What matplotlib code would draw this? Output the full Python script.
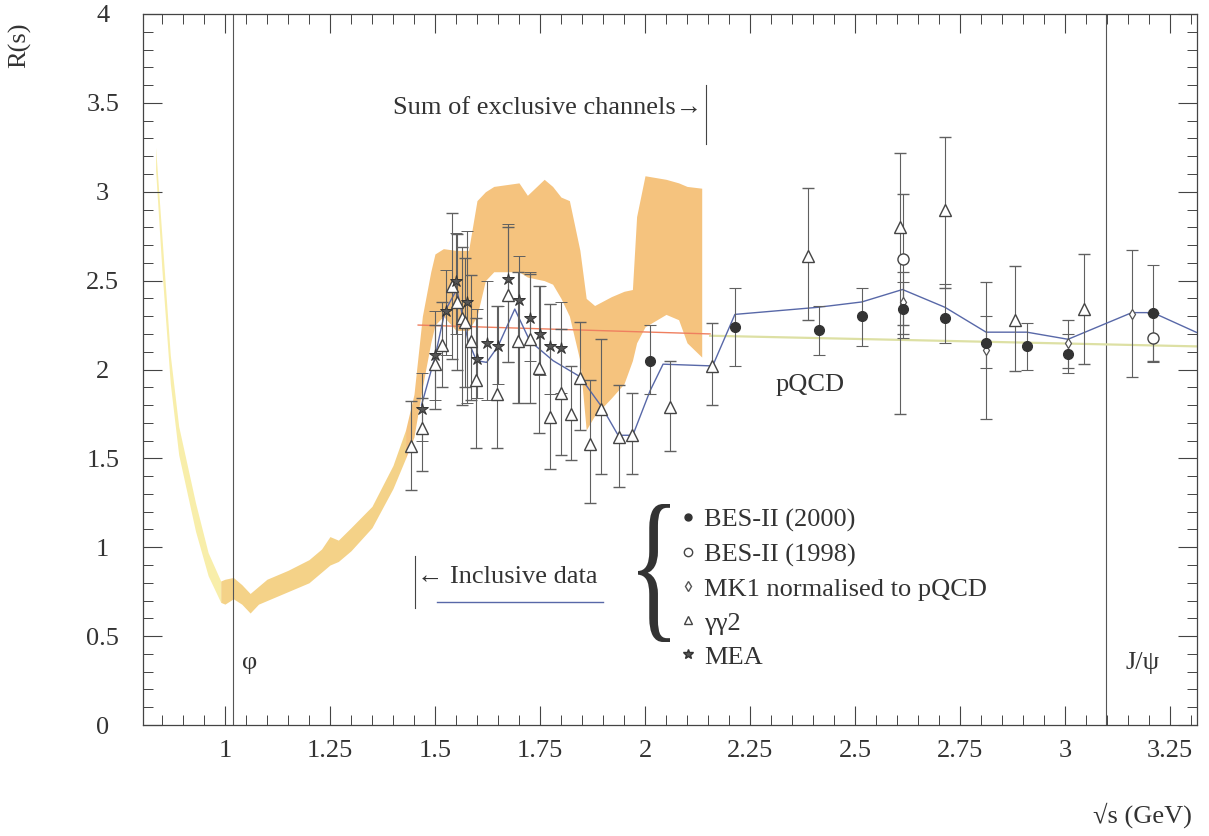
import matplotlib
matplotlib.use("Agg")
import matplotlib.pyplot as plt
from matplotlib.font_manager import FontProperties
from matplotlib.lines import Line2D
from matplotlib.patches import PathPatch
from matplotlib.textpath import TextPath
from matplotlib.ticker import MultipleLocator
from matplotlib.transforms import Affine2D, IdentityTransform
import numpy as np

plt.rcParams["font.family"] = ["Liberation Serif", "DejaVu Serif"]

# exclusive-channel band (sqrt(s), lower, upper)
band_x = [0.835, 0.85, 0.87, 0.89, 0.93, 0.96, 0.99, 1.00, 1.02, 1.04, 1.06, 1.08, 1.10,
          1.15, 1.20, 1.23, 1.25, 1.27, 1.30, 1.35, 1.40, 1.43, 1.45, 1.47, 1.49, 1.50,
          1.52, 1.55, 1.58, 1.60, 1.62, 1.64, 1.70, 1.72, 1.76, 1.78, 1.80, 1.82, 1.845,
          1.86, 1.88, 1.92, 1.95, 1.97, 1.98, 2.00, 2.05, 2.08, 2.10, 2.135]
band_lo = [3.12, 2.56, 1.92, 1.52, 1.09, 0.84, 0.69, 0.68, 0.71, 0.68, 0.63, 0.68, 0.70,
           0.75, 0.80, 0.86, 0.90, 0.92, 0.98, 1.11, 1.33, 1.50, 1.62, 1.90, 2.15, 2.25,
           2.30, 2.22, 2.22, 2.30, 2.50, 2.55, 2.55, 2.52, 2.50, 2.48, 2.40, 2.30, 2.05,
           1.66, 1.74, 1.84, 1.92, 2.05, 2.15, 2.24, 2.31, 2.28, 2.15, 2.07]
band_hi = [3.25, 2.75, 2.08, 1.68, 1.25, 0.97, 0.81, 0.82, 0.83, 0.79, 0.74, 0.78, 0.82,
           0.87, 0.93, 0.99, 1.06, 1.04, 1.11, 1.23, 1.46, 1.66, 1.86, 2.30, 2.55, 2.65,
           2.68, 2.67, 2.67, 2.95, 3.00, 3.03, 3.05, 2.98, 3.07, 3.03, 2.97, 2.95, 2.67,
           2.40, 2.36, 2.41, 2.44, 2.45, 2.86, 3.09, 3.07, 3.05, 3.03, 3.02]

# inclusive data average line
incl_x = [1.468, 1.500, 1.524, 1.552, 1.564, 1.579, 1.599, 1.623, 1.650, 1.690, 1.726,
          1.781, 1.845, 1.897, 1.936, 1.971, 2.012, 2.043, 2.161, 2.214, 2.412, 2.516,
          2.613, 2.714, 2.812, 2.909, 3.007, 3.159, 3.209, 3.321]
incl_y = [1.80, 2.07, 2.33, 2.45, 2.32, 2.16, 2.05, 2.04, 2.13, 2.34, 2.16,
          2.05, 1.96, 1.79, 1.63, 1.63, 1.88, 2.03, 2.02, 2.31, 2.35, 2.38,
          2.45, 2.35, 2.21, 2.21, 2.17, 2.32, 2.32, 2.20]

# pQCD
pqcd_red_x = [1.46, 2.155]
pqcd_red_y = [2.25, 2.20]
pqcd_x = [2.155, 3.314]
pqcd_y = [2.19, 2.13]

# BES-II (2000)
bes00_x = [2.012, 2.214, 2.415, 2.516, 2.613, 2.713, 2.812, 2.909, 3.008, 3.209]
bes00_y = [2.05, 2.24, 2.22, 2.30, 2.34, 2.29, 2.15, 2.13, 2.09, 2.32]
bes00_lo = [1.86, 2.02, 2.08, 2.13, 2.18, 2.15, 2.01, 2.00, 1.98, 2.04]
bes00_hi = [2.25, 2.46, 2.36, 2.46, 2.49, 2.48, 2.30, 2.26, 2.20, 2.59]

# BES-II (1998)
bes98_x = [2.613, 3.209]
bes98_y = [2.62, 2.18]
bes98_lo = [2.25, 2.05]
bes98_hi = [2.99, 2.32]

# MK1 normalised to pQCD
mk1_x = [2.613, 2.812, 3.008, 3.159]
mk1_y = [2.38, 2.11, 2.15, 2.31]
mk1_lo = [2.20, 1.72, 2.01, 1.96]
mk1_hi = [2.55, 2.49, 2.28, 2.67]

# gamma gamma 2
gg2_x = [1.442, 1.470, 1.500, 1.516, 1.540, 1.552, 1.564, 1.571, 1.585, 1.598, 1.647,
         1.675, 1.698, 1.726, 1.748, 1.774, 1.800, 1.823, 1.845, 1.868, 1.896, 1.938,
         1.970, 2.060, 2.160, 2.387, 2.607, 2.714, 2.881, 3.044]
gg2_y = [1.57, 1.67, 2.03, 2.14, 2.47, 2.38, 2.29, 2.27, 2.16, 1.94, 1.86,
         2.42, 2.16, 2.17, 2.01, 1.73, 1.87, 1.75, 1.95, 1.58, 1.78, 1.62,
         1.63, 1.79, 2.02, 2.64, 2.80, 2.90, 2.28, 2.34]
gg2_lo = [1.32, 1.43, 1.78, 1.90, 2.06, 2.00, 1.80, 1.90, 1.83, 1.56, 1.56,
          2.04, 1.81, 1.81, 1.64, 1.44, 1.52, 1.49, 1.66, 1.25, 1.41, 1.34,
          1.41, 1.54, 1.80, 2.28, 1.75, 2.46, 1.99, 2.03]
gg2_hi = [1.82, 1.84, 2.25, 2.38, 2.88, 2.76, 2.69, 2.63, 2.53, 2.29, 2.36,
          2.80, 2.55, 2.54, 2.47, 2.37, 2.23, 2.02, 2.27, 1.94, 2.17, 1.91,
          1.87, 2.05, 2.26, 3.02, 3.22, 3.31, 2.58, 2.65]

# MEA
mea_x = [1.468, 1.500, 1.526, 1.551, 1.577, 1.599, 1.623, 1.650, 1.675, 1.700, 1.726,
         1.750, 1.775, 1.801]
mea_y = [1.78, 2.08, 2.33, 2.50, 2.38, 2.06, 2.15, 2.13, 2.51, 2.39, 2.29,
         2.20, 2.13, 2.12]
mea_lo = [1.60, 1.83, 2.08, 2.20, 1.81, 1.84, 1.83, 1.92, 2.04, 1.81, 2.05,
          1.97, 1.86, 1.87]
mea_hi = [1.98, 2.33, 2.56, 2.77, 2.78, 2.34, 2.50, 2.36, 2.82, 2.64, 2.55,
          2.47, 2.37, 2.38]

phi_mass = 1.019
jpsi_mass = 3.097

TXT = "#333333"
ERR = "#606060"


def errs(y, lo, hi):
    y, lo, hi = np.asarray(y), np.asarray(lo), np.asarray(hi)
    return [y - lo, hi - y]


def add_brace(fig, left, top, width, height):
    # narrow curly brace drawn from the font glyph, placed in figure pixels
    tp = TextPath((0, 0), "{", size=1, prop=FontProperties(family="Liberation Serif"))
    ext = tp.get_extents()
    fig_h = fig.get_figheight() * fig.dpi
    tr = (Affine2D().translate(-ext.x0, -ext.y0)
          .scale(width / ext.width, height / ext.height)
          .translate(left, fig_h - top - height))
    patch = PathPatch(tr.transform_path(tp), facecolor=TXT, lw=0,
                      transform=IdentityTransform())
    fig.add_artist(patch)


fig = plt.figure(figsize=(12.09, 8.36), dpi=100)
ax = fig.add_axes([143 / 1209, 111 / 836, 1054 / 1209, 711 / 836])

bx = np.asarray(band_x)
segments = [
    (bx <= 0.99, "#f8eeaa"),
    ((bx >= 0.99) & (bx <= 1.43), "#f4d288"),
    (bx >= 1.43, "#f5c37e"),
]
for mask, color in segments:
    ax.fill_between(band_x, band_lo, band_hi, where=mask, color=color, lw=0, zorder=1)

ax.axvline(phi_mass, color="#555555", lw=0.8, zorder=2)
ax.axvline(jpsi_mass, color="#555555", lw=0.8, zorder=2)

ax.plot(pqcd_red_x, pqcd_red_y, color="#ef7f5f", lw=1.0, zorder=2)
ax.plot(pqcd_x, pqcd_y, color="#dde0a4", lw=1.6, zorder=2)
ax.plot(incl_x, incl_y, color="#5868a8", lw=1.0, zorder=3)

ekw = dict(ls="none", ecolor=ERR, elinewidth=0.8, capsize=4, capthick=0.8, zorder=4)
ax.errorbar(gg2_x, gg2_y, yerr=errs(gg2_y, gg2_lo, gg2_hi), marker="^", ms=8,
            mfc="white", mec="#444444", mew=1.0, **ekw)
ax.errorbar(mea_x, mea_y, yerr=errs(mea_y, mea_lo, mea_hi), marker="*", ms=9,
            mfc="#555555", mec="#333333", mew=0.7, **ekw)
ax.errorbar(mk1_x, mk1_y, yerr=errs(mk1_y, mk1_lo, mk1_hi), marker="d", ms=5,
            mfc="white", mec="#555555", mew=0.9, **ekw)
ax.errorbar(bes98_x, bes98_y, yerr=errs(bes98_y, bes98_lo, bes98_hi), marker="o", ms=8,
            mfc="white", mec="#444444", mew=1.0, **ekw)
ax.errorbar(bes00_x, bes00_y, yerr=errs(bes00_y, bes00_lo, bes00_hi), marker="o", ms=7,
            mfc="#333333", mec="#333333", **ekw)

# annotations
fs = 19
ax.text(2.137, 3.47, "Sum of exclusive channels\u2192", ha="right", va="center",
        fontsize=fs, color=TXT)
ax.plot([2.145, 2.145], [3.27, 3.60], color="#444444", lw=0.8)
ax.text(2.31, 1.91, "pQCD", ha="left", va="center", fontsize=fs, color=TXT)
ax.text(1.457, 0.83, "\u2190 Inclusive data", ha="left", va="center", fontsize=fs, color=TXT)
ax.plot([1.452, 1.452], [0.66, 0.95], color="#444444", lw=0.8)
ax.plot([1.505, 1.90], [0.69, 0.69], color="#5868a8", lw=1.0)
ax.text(1.06, 0.35, "\u03c6", ha="center", va="center", fontsize=fs, color=TXT)
ax.text(3.185, 0.35, "J/\u03c8", ha="center", va="center", fontsize=fs, color=TXT)

# legend with brace
add_brace(fig, left=638, top=504, width=32, height=138)
handles = [
    Line2D([], [], ls="none", marker="o", ms=5, mfc="#333333", mec="#333333"),
    Line2D([], [], ls="none", marker="o", ms=6, mfc="white", mec="#444444"),
    Line2D([], [], ls="none", marker="d", ms=5, mfc="white", mec="#555555"),
    Line2D([], [], ls="none", marker="^", ms=6, mfc="white", mec="#444444"),
    Line2D([], [], ls="none", marker="*", ms=7, mfc="#555555", mec="#333333"),
]
labels = ["BES-II (2000)", "BES-II (1998)", "MK1 normalised to pQCD", "\u03b3\u03b32", "MEA"]
leg = ax.legend(handles, labels, loc="upper left", bbox_to_anchor=(667 / 1209, 1 - 495 / 836),
                bbox_transform=fig.transFigure, frameon=False, fontsize=fs,
                handlelength=0.6, handletextpad=0.3, labelspacing=0.4, borderpad=0)
for t in leg.get_texts():
    t.set_color(TXT)

ax.set_xlim(0.805, 3.314)
ax.set_ylim(0, 4)
ax.xaxis.set_minor_locator(MultipleLocator(0.05))
ax.yaxis.set_minor_locator(MultipleLocator(0.1))
ax.set_xticks(np.arange(1.0, 3.26, 0.25))
ax.set_xticklabels(["1", "1.25", "1.5", "1.75", "2", "2.25", "2.5", "2.75", "3", "3.25"])
ax.set_yticks(np.arange(0, 4.01, 0.5))
ax.set_yticklabels(["0", "0.5", "1", "1.5", "2", "2.5", "3", "3.5", "4"])
ax.tick_params(which="both", direction="in", top=True, right=True, colors="#444444",
               labelcolor=TXT, labelsize=fs)
ax.tick_params(which="major", length=14, width=0.8)
ax.tick_params(which="minor", length=7, width=0.7)
ax.tick_params(axis="x", pad=11)
ax.tick_params(axis="y", pad=29)
for lab in ax.get_yticklabels():
    lab.set_horizontalalignment("center")
for s in ax.spines.values():
    s.set_color("#444444")
    s.set_linewidth(0.9)

fig.text(20 / 1209, 1 - 45 / 836, "R(s)", rotation=90, ha="center", va="center",
         fontsize=fs, color=TXT)
fig.text(1192 / 1209, 1 - 815 / 836, "\u221as (GeV)", ha="right", va="center",
         fontsize=fs, color=TXT)

fig.savefig("out.png", dpi=100)
